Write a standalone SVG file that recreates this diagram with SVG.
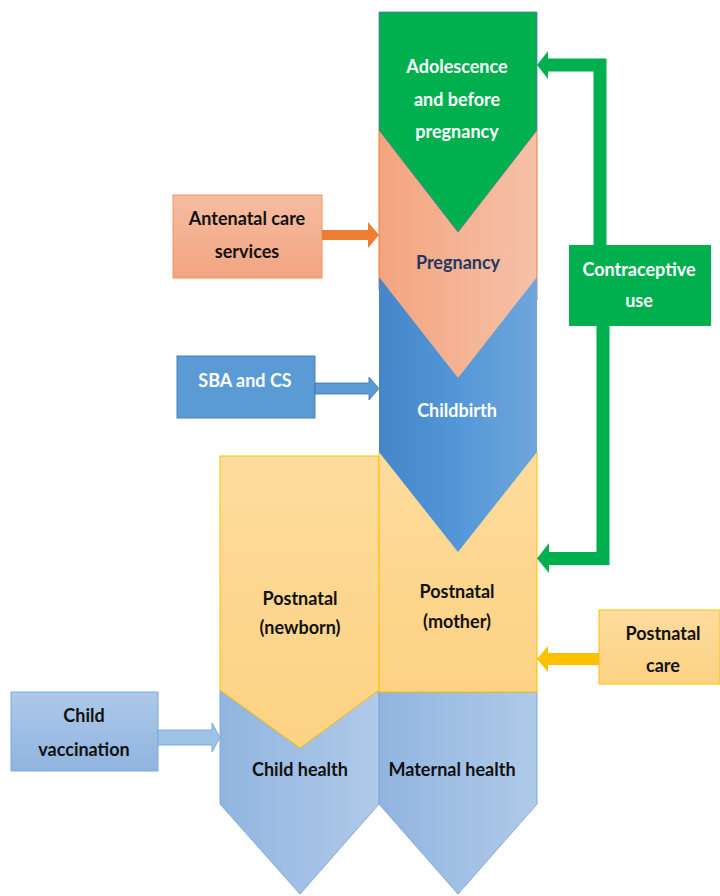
<svg xmlns="http://www.w3.org/2000/svg" width="720" height="896" viewBox="0 0 720 896">
<defs>
<linearGradient id="gPeach" x1="0" y1="0" x2="1" y2="0"><stop offset="0" stop-color="#F4A47F"/><stop offset="1" stop-color="#F6C1A8"/></linearGradient>
<linearGradient id="gBlue" x1="0" y1="0" x2="1" y2="0"><stop offset="0" stop-color="#4486C8"/><stop offset="0.5" stop-color="#5497D8"/><stop offset="1" stop-color="#70A6DB"/></linearGradient>
<linearGradient id="gHealth" x1="0" y1="0" x2="1" y2="0"><stop offset="0" stop-color="#91B5E0"/><stop offset="1" stop-color="#B0CAE8"/></linearGradient>
<linearGradient id="gYellow" x1="0" y1="0" x2="0" y2="1"><stop offset="0" stop-color="#FDDC9C"/><stop offset="1" stop-color="#FDD283"/></linearGradient>
<linearGradient id="gAnc" x1="0" y1="0" x2="0" y2="1"><stop offset="0" stop-color="#F6BDA2"/><stop offset="1" stop-color="#F2A481"/></linearGradient>
<linearGradient id="gVac" x1="0" y1="0" x2="0" y2="1"><stop offset="0" stop-color="#ADC9E9"/><stop offset="1" stop-color="#8FB4DF"/></linearGradient>
</defs>
<style>
text{font-family:Lato,"Liberation Sans",sans-serif;font-weight:bold;font-size:18px;text-anchor:middle}
.w{fill:#FFFFFF}
.k{fill:#111111}
.n{fill:#1F3864}
</style>

<g id="child-health">
<polygon points="220,690 300,748 379,690 379,804 300,894 220,804" fill="url(#gHealth)" stroke="#7EA9DC" stroke-width="1"/>
<text class="k" x="300" y="776">Child health</text>
</g>
<g id="maternal-health">
<polygon points="379,692 537,692 537,804 458,894 379,804" fill="url(#gHealth)" stroke="#7EA9DC" stroke-width="1"/>
<text class="k" x="452" y="776">Maternal health</text>
</g>
<g id="postnatal-newborn">
<polygon points="220,456 379,456 379,690 300,748 220,690" fill="url(#gYellow)" stroke="#FFC000" stroke-width="1"/>
<text class="k" x="300" y="605">Postnatal</text>
<text class="k" x="300" y="634">(newborn)</text>
</g>
<g id="postnatal-mother">
<rect x="379" y="452" width="158" height="240" fill="url(#gYellow)" stroke="#FFC000" stroke-width="1"/>
<text class="k" x="457" y="598">Postnatal</text>
<text class="k" x="457" y="628">(mother)</text>
</g>
<g id="pregnancy">
<polygon points="379,130 458,232 537,130 537,300 458,378 379,290" fill="url(#gPeach)" stroke="#ED7D31" stroke-width="1"/>
<text class="n" x="458" y="269">Pregnancy</text>
</g>
<g id="childbirth">
<polygon points="379,277 458,378 537,277 537,452 458,552 379,452" fill="url(#gBlue)"/>
<text class="w" x="457" y="417">Childbirth</text>
</g>
<g id="adolescence">
<polygon points="379,12 537,12 537,130 458,232 379,130" fill="#00B04F" stroke="#4F7FB6" stroke-width="0.8"/>
<text class="w" x="457" y="73">Adolescence</text>
<text class="w" x="457" y="106">and before</text>
<text class="w" x="457" y="138">pregnancy</text>
</g>

<g id="antenatal">
<rect x="173" y="195" width="149" height="83" fill="url(#gAnc)" stroke="#F0945F" stroke-width="1"/>
<text class="k" x="247" y="225">Antenatal care</text>
<text class="k" x="247" y="258">services</text>
</g>
<g id="sba">
<rect x="177" y="356" width="138" height="62" fill="#5B9BD5" stroke="#4A7FB5" stroke-width="1"/>
<text class="w" x="245" y="387">SBA and CS</text>
</g>
<g id="child-vaccination">
<rect x="11" y="692" width="147" height="79" fill="url(#gVac)" stroke="#7EA9DC" stroke-width="1"/>
<text class="k" x="84" y="722">Child</text>
<text class="k" x="84" y="756">vaccination</text>
</g>
<g id="contraceptive">
<rect x="569" y="245" width="142" height="81" fill="#00B04F"/>
<text class="w" x="639" y="276">Contraceptive</text>
<text class="w" x="639" y="307">use</text>
</g>
<g id="postnatal-care">
<rect x="599" y="610" width="121" height="74" fill="url(#gYellow)" stroke="#FFC000" stroke-width="1"/>
<text class="k" x="663" y="640">Postnatal</text>
<text class="k" x="663" y="672">care</text>
</g>

<g id="connectors">
<polygon points="322,230 368,230 368,222 379,235 368,248 368,240 322,240" fill="#ED7D31"/>
<polygon points="315,383 369,383 369,377 379,388.5 369,400 369,394 315,394" fill="#5B9BD5" stroke="#41719C" stroke-width="0.8"/>
<polygon points="158,730 212,730 212,723 220,737.5 212,752 212,745 158,745" fill="#9DC3E6" stroke="#7EA9DC" stroke-width="1"/>
<polygon points="599,653 548,653 548,646 537,659 548,672 548,665 599,665" fill="#FFC000"/>
<path d="M600,245 V65 H546" fill="none" stroke="#00B04F" stroke-width="13"/>
<polygon points="548,51 537,65 548,79" fill="#00B04F"/>
<path d="M603,326 V558.5 H546" fill="none" stroke="#00B04F" stroke-width="13"/>
<polygon points="549,543 537,558.5 549,573" fill="#00B04F"/>
</g>
</svg>
